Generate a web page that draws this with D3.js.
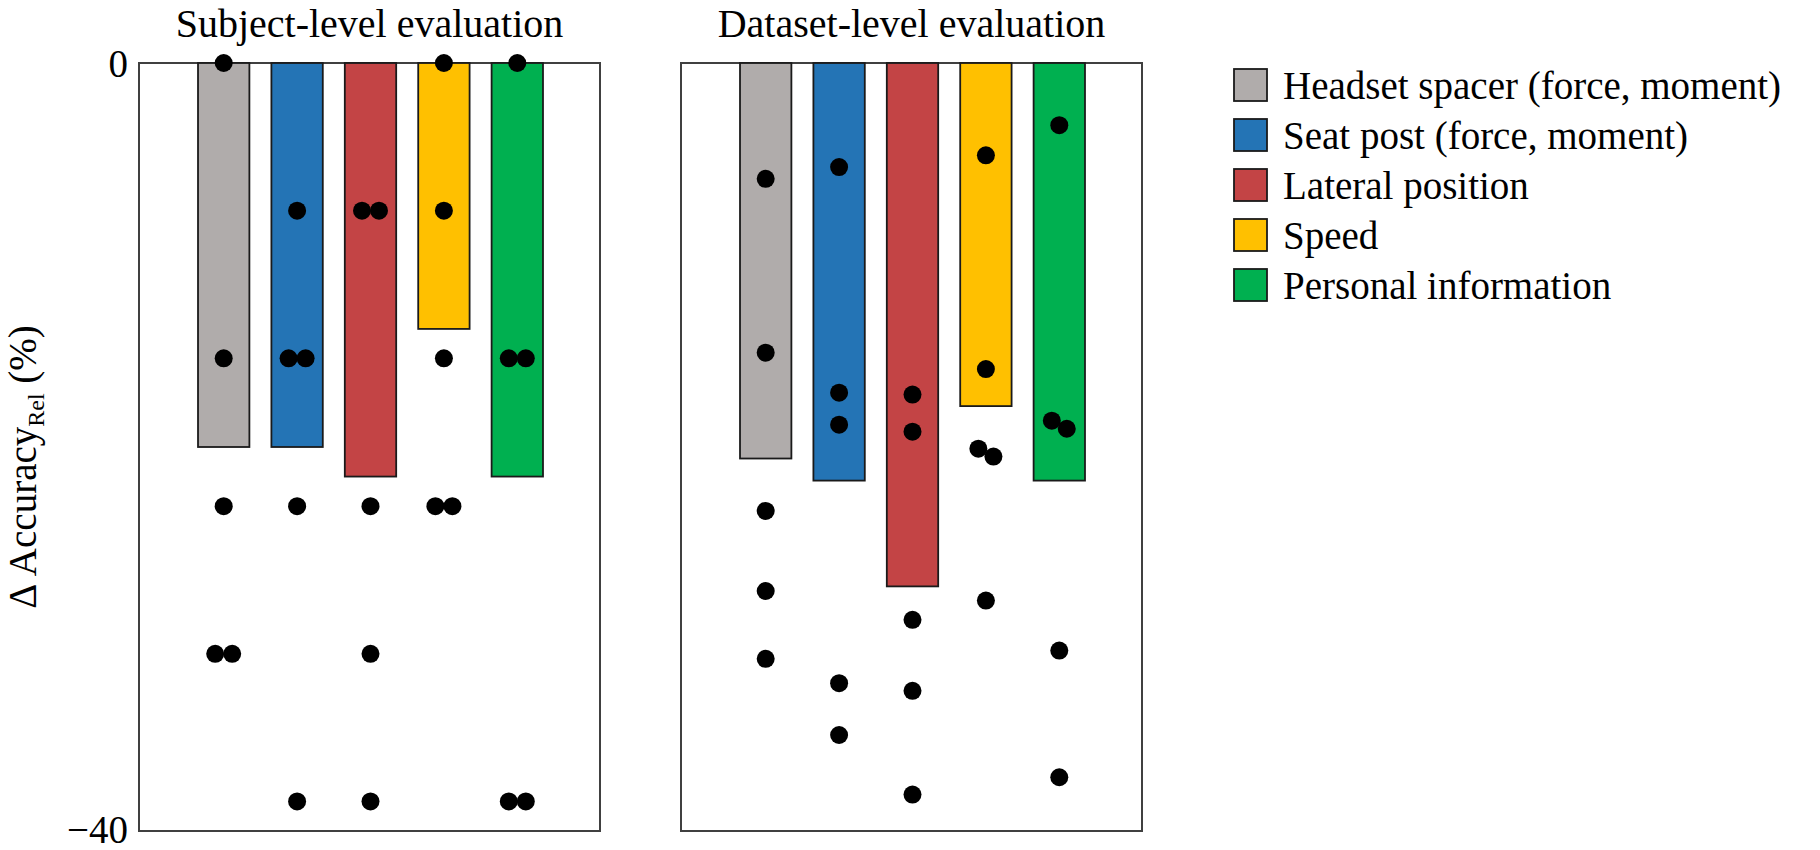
<!DOCTYPE html>
<html>
<head>
<meta charset="utf-8">
<script src="https://cdn.jsdelivr.net/npm/d3@7"></script>
<style>
  html, body { margin: 0; padding: 0; background: #fff; }
  svg { display: block; }
</style>
</head>
<body>
<svg id="chart" width="1820" height="850"></svg>
<script>
// ---- data ----
const categories = ["Headset spacer (force, moment)", "Seat post (force, moment)", "Lateral position", "Speed", "Personal information"];
const colors = ["#B0ACAB", "#2474B5", "#C34445", "#FFC000", "#00B050"];
const panelTitles = ["Subject-level evaluation", "Dataset-level evaluation"];

const subjectBars = [-20.0, -20.0, -21.54, -13.85, -21.54];
const subjectPoints = [
  [0, -15.38, -23.08, -30.77, -30.77],
  [-7.69, -15.38, -15.38, -23.08, -38.46],
  [-7.69, -7.69, -23.08, -30.77, -38.46],
  [0, -7.69, -15.38, -23.08, -23.08],
  [0, -15.38, -15.38, -38.46, -38.46]
];

const datasetBars = [-20.6, -21.75, -27.26, -17.87, -21.75];
const datasetPoints = [
  [-6.03, -15.09, -23.33, -27.5, -31.03],
  [-5.42, -17.17, -18.84, -32.3, -35.0],
  [-17.27, -19.2, -29.0, -32.7, -38.1],
  [-4.81, -15.94, -20.09, -20.5, -28.0],
  [-3.24, -18.63, -19.05, -30.6, -37.2]
];

const yTicks = [0, -40];
const yLabelMain = "Δ Accuracy";
const yLabelSub = "Rel";
const yLabelTail = " (%)";

// ---- layout ----
const FONT = "'Liberation Serif', 'Times New Roman', 'DejaVu Serif', serif";
const svg = d3.select("#chart").attr("font-family", FONT);
const panelW = 461, plotTop = 63, plotBottom = 831;
const panelX = [139, 681];
const dotR = 9;

const y = d3.scaleLinear().domain([0, -40]).range([plotTop, plotBottom]);
const x = d3.scaleBand().domain(d3.range(categories.length))
  .range([48, 415]).paddingInner(0.30).paddingOuter(0.15);

const panels = [
  { bars: subjectBars, points: subjectPoints },
  { bars: datasetBars, points: datasetPoints }
];

function swarm(values) {
  const px = values.map(v => y(v));
  const off = values.map(() => 0);
  const used = values.map(() => false);
  const D = 2 * dotR - 1;
  for (let i = 0; i < px.length; i++) {
    if (used[i]) continue;
    for (let j = i + 1; j < px.length; j++) {
      if (used[j]) continue;
      const dy = Math.abs(px[j] - px[i]);
      if (dy < D) {
        const dx = Math.sqrt(D * D - dy * dy) / 2;
        const upper = px[i] <= px[j] ? i : j;
        const lower = upper === i ? j : i;
        off[upper] = -dx; off[lower] = dx;
        used[i] = used[j] = true;
        break;
      }
    }
  }
  return off;
}

panels.forEach((p, pi) => {
  const g = svg.append("g").attr("transform", `translate(${panelX[pi]},0)`);

  g.append("rect")
    .attr("x", 0).attr("y", plotTop)
    .attr("width", panelW).attr("height", plotBottom - plotTop)
    .attr("fill", "#fff").attr("stroke", "#404040").attr("stroke-width", 2);

  g.selectAll("rect.bar")
    .data(p.bars)
    .join("rect")
    .attr("class", "bar")
    .attr("x", (d, i) => x(i))
    .attr("width", x.bandwidth())
    .attr("y", y(0))
    .attr("height", d => y(d) - y(0))
    .attr("fill", (d, i) => colors[i])
    .attr("stroke", "#1a1a1a").attr("stroke-width", 1.8);

  p.points.forEach((vals, ci) => {
    const off = swarm(vals);
    g.selectAll(null)
      .data(vals)
      .join("circle")
      .attr("cx", (d, k) => x(ci) + x.bandwidth() / 2 + off[k])
      .attr("cy", d => y(d))
      .attr("r", dotR)
      .attr("fill", "#000");
  });

  g.append("text")
    .attr("x", panelW / 2).attr("y", 37)
    .attr("text-anchor", "middle")
    .attr("font-family", FONT)
    .attr("font-size", 40)
    .attr("fill", "#000")
    .text(panelTitles[pi]);
});

// y axis labels (no tick marks)
const yAxis = svg.append("g");
yAxis.selectAll("text")
  .data(yTicks)
  .join("text")
  .attr("x", panelX[0] - 11)
  .attr("y", d => y(d))
  .attr("dy", d => d < 0 ? "0.3em" : "0.35em")
  .attr("text-anchor", "end")
  .attr("font-family", FONT)
  .attr("font-size", 39)
  .attr("fill", "#000")
  .text(d => d < 0 ? "\u2212" + Math.abs(d) : d);

// y label
const yl = svg.append("text")
  .attr("transform", `translate(36,${(plotTop + plotBottom) / 2 + 20}) rotate(-90)`)
  .attr("text-anchor", "middle")
  .attr("font-family", FONT)
  .attr("font-size", 39)
  .attr("fill", "#000");
yl.append("tspan").text(yLabelMain);
yl.append("tspan").attr("font-size", 24).attr("dy", 8).text(yLabelSub);
yl.append("tspan").attr("dy", -8).text(yLabelTail);

// legend
const lg = svg.append("g").attr("transform", "translate(1234,69)");
const rows = lg.selectAll("g").data(categories).join("g")
  .attr("transform", (d, i) => `translate(0,${i * 50})`);
rows.append("rect")
  .attr("width", 33).attr("height", 32)
  .attr("fill", (d, i) => colors[i])
  .attr("stroke", "#1a1a1a").attr("stroke-width", 1.8);
rows.append("text")
  .attr("x", 49).attr("y", 16).attr("dy", "0.35em")
  .attr("font-family", FONT)
  .attr("font-size", 39)
  .attr("fill", "#000")
  .text(d => d);
</script>
</body>
</html>
